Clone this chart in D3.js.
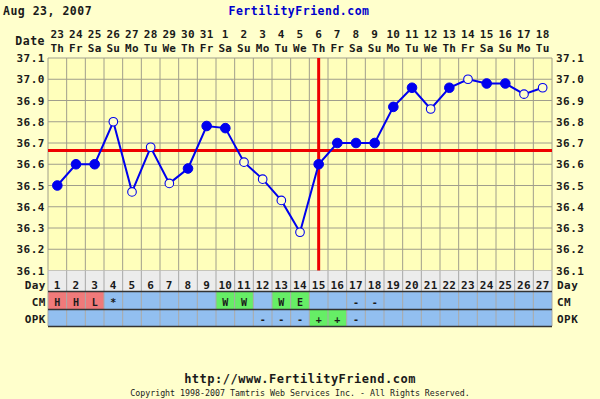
<!DOCTYPE html>
<html lang="en">
<head>
    <meta charset="UTF-8">
    <title>FertilityFriend chart</title>
    <script src="https://cdnjs.cloudflare.com/ajax/libs/d3/7.8.5/d3.min.js"></script>
    <style>
        body { margin: 0; background: #ffffcc; }
        svg { display: block; font-family: "DejaVu Sans Mono", monospace; font-weight: bold; }
    </style>
</head>
<body>
<svg width="600" height="399"></svg>
<script>
    // cycle data
    const days = d3.range(1, 28);
    const dates = ["23","24","25","26","27","28","29","30","31","1","2","3","4","5","6","7","8","9","10","11","12","13","14","15","16","17","18"];
    const weekdays = ["Th","Fr","Sa","Su","Mo","Tu","We","Th","Fr","Sa","Su","Mo","Tu","We","Th","Fr","Sa","Su","Mo","Tu","We","Th","Fr","Sa","Su","Mo","Tu"];
    const temps = [36.50,36.60,36.60,36.80,36.47,36.68,36.51,36.58,36.78,36.77,36.61,36.53,36.43,36.28,36.60,36.70,36.70,36.70,36.87,36.96,36.86,36.96,37.00,36.98,36.98,36.93,36.96];
    const filled = [1,1,1,0,0,0,0,1,1,1,0,0,0,0,1,1,1,1,1,1,0,1,0,1,1,0,0];
    const yTicks = [37.1,37.0,36.9,36.8,36.7,36.6,36.5,36.4,36.3,36.2,36.1];
    const coverline = 36.665;
    const ovulationDay = 15;
    const cm = {1:"H",2:"H",3:"L",4:"*",10:"W",11:"W",13:"W",14:"E",17:"-",18:"-"};
    const opk = {12:"-",13:"-",14:"-",15:"+",16:"+",17:"-"};

    const svg = d3.select("svg");
    const pLeft = 48, pRight = 552, pTop = 58, pBottom = 270.5;
    const ink = "#1a1a1a";

    const x = d3.scaleBand().domain(days).range([pLeft, pRight]);
    const y = d3.scaleLinear().domain([36.1, 37.1]).range([pBottom, pTop]);
    const cx = d => x(d) + x.bandwidth() / 2;

    function label(t, xx, yy, anchor, size, color) {
        return svg.append("text").attr("x", xx).attr("y", yy).attr("text-anchor", anchor || "start")
            .attr("font-size", size || 11).attr("fill", color || ink).attr("letter-spacing", 0.5).text(t);
    }

    // header
    label("Aug 23, 2007", 3, 15, "start", 11.5);
    label("FertilityFriend.com", 299, 15, "middle", 11.5, "#0000cc");

    label("Date", 45, 45, "end", 11.5);
    svg.append("g").selectAll("text").data(days).join("text")
        .attr("x", cx).attr("y", 38)
        .attr("text-anchor", "middle").attr("font-size", 11).attr("fill", ink).attr("letter-spacing", 0.3)
        .text((d, i) => dates[i]);
    svg.append("g").selectAll("text").data(days).join("text")
        .attr("x", cx).attr("y", 51.5)
        .attr("text-anchor", "middle").attr("font-size", 11).attr("fill", ink).attr("letter-spacing", 0.3)
        .text((d, i) => weekdays[i]);

    // plot background and grid
    svg.append("rect").attr("x", pLeft).attr("y", pTop).attr("width", pRight - pLeft).attr("height", pBottom - pTop)
        .attr("fill", "#ffffbb");
    svg.append("g").selectAll("line").data(yTicks).join("line")
        .attr("x1", pLeft).attr("x2", pRight).attr("y1", d => y(d)).attr("y2", d => y(d))
        .attr("stroke", "#a09e8c").attr("stroke-width", 1);
    const edges = days.map(d => x(d)).concat([pRight]);
    svg.append("g").selectAll("line").data(edges).join("line")
        .attr("x1", d => d).attr("x2", d => d)
        .attr("y1", pTop).attr("y2", pBottom)
        .attr("stroke", "#a09e8c").attr("stroke-width", 1);

    // y labels both sides
    svg.append("g").selectAll("text").data(yTicks).join("text")
        .attr("x", 45).attr("y", d => y(d) + 4).attr("text-anchor", "end")
        .attr("font-size", 11).attr("letter-spacing", 0.5).attr("fill", ink).text(d => d.toFixed(1));
    svg.append("g").selectAll("text").data(yTicks).join("text")
        .attr("x", 556).attr("y", d => y(d) + 4).attr("text-anchor", "start")
        .attr("font-size", 11).attr("letter-spacing", 0.5).attr("fill", ink).text(d => d.toFixed(1));

    // bottom table
    const rowDay = [270.5, 291], rowCM = [292, 309], rowOPK = [310, 326];
    svg.append("rect").attr("x", pLeft).attr("y", rowDay[0]).attr("width", pRight - pLeft).attr("height", rowDay[1] - rowDay[0])
        .attr("fill", "#ececec");
    svg.append("g").selectAll("text").data(days).join("text")
        .attr("x", cx).attr("y", 288.5)
        .attr("text-anchor", "middle").attr("font-size", 11).attr("letter-spacing", 0.3).attr("fill", ink).text(d => d);

    function codeColor(c) {
        if (c === "H" || c === "L") return "#f07a7a";
        if (c === "W" || c === "E" || c === "+") return "#66ee66";
        return "#92bff0";
    }
    [[rowCM, cm], [rowOPK, opk]].forEach(([row, codes]) => {
        svg.append("g").selectAll("rect").data(days).join("rect")
            .attr("x", d => x(d)).attr("y", row[0]).attr("width", x.bandwidth()).attr("height", row[1] - row[0])
            .attr("fill", d => codes[d] ? codeColor(codes[d]) : "#92bff0");
    });
    svg.append("g").selectAll("line").data(edges).join("line")
        .attr("x1", d => d).attr("x2", d => d)
        .attr("y1", rowDay[0]).attr("y2", rowOPK[1])
        .attr("stroke", "#a8a8a8").attr("stroke-width", 1);
    svg.append("g").selectAll("line").data([rowDay[1], rowCM[1], rowOPK[1]]).join("line")
        .attr("x1", pLeft).attr("x2", pRight).attr("y1", d => d + 0.5).attr("y2", d => d + 0.5)
        .attr("stroke", "#333").attr("stroke-width", 1.5);
    [[rowCM, cm, 305.5], [rowOPK, opk, 322.5]].forEach(([row, codes, base]) => {
        svg.append("g").selectAll("text").data(days.filter(d => codes[d])).join("text")
            .attr("x", cx).attr("y", base)
            .attr("text-anchor", "middle").attr("font-size", 10).attr("fill", ink).text(d => codes[d]);
    });

    [["Day", 288.5], ["CM", 305.5], ["OPK", 322.5]].forEach(([t, yy]) => {
        label(t, 46, yy, "end", 11);
        label(t, 557, yy, "start", 11);
    });

    // coverline and ovulation line
    svg.append("line").attr("x1", pLeft).attr("x2", pRight).attr("y1", y(coverline)).attr("y2", y(coverline))
        .attr("stroke", "#ee0000").attr("stroke-width", 3);
    svg.append("line").attr("x1", cx(ovulationDay)).attr("x2", cx(ovulationDay)).attr("y1", pTop).attr("y2", pBottom)
        .attr("stroke", "#ee0000").attr("stroke-width", 3);

    // temperature line
    const line = d3.line().x((d, i) => cx(days[i])).y(d => y(d));
    svg.append("path").datum(temps).attr("d", line)
        .attr("fill", "none").attr("stroke", "#0000ee").attr("stroke-width", 2);
    svg.append("g").selectAll("circle").data(temps).join("circle")
        .attr("cx", (d, i) => cx(days[i])).attr("cy", d => y(d))
        .attr("r", (d, i) => filled[i] ? 4.8 : 4.3)
        .attr("fill", (d, i) => filled[i] ? "#0000ee" : "#ffffcc")
        .attr("stroke", "#0000ee").attr("stroke-width", (d, i) => filled[i] ? 1 : 1.1);

    // footer
    label("http://www.FertilityFriend.com", 300, 383, "middle", 12);
    svg.append("text").attr("x", 300).attr("y", 396).attr("text-anchor", "middle")
        .attr("font-size", 8.3).attr("font-weight", "normal").attr("fill", ink)
        .text("Copyright 1998-2007 Tamtris Web Services Inc. - All Rights Reserved.");
</script>
</body>
</html>
